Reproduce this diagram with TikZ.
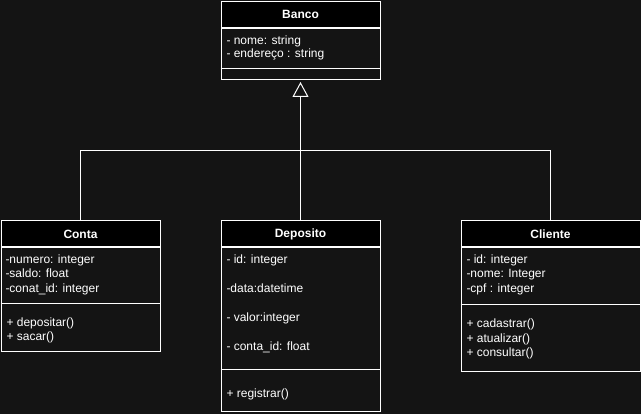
\documentclass[tikz,border=0pt]{standalone}
\usepackage{fontspec}
\setmainfont{Liberation Sans}
\usetikzlibrary{arrows.meta,positioning}
\definecolor{bgdark}{HTML}{141414}

\begin{document}
\begin{tikzpicture}[
        x=1pt, y=-1pt, line width=1pt,
        >={Triangle[open,length=15pt,width=16pt]},
        classhead/.style={draw=white, fill=black, text=white, inner sep=0pt, minimum height=26pt, font=\bfseries\fontsize{12}{14}\selectfont},
        classbody/.style={draw=white, fill=bgdark, inner sep=0pt},
        member/.style={text=white, anchor=base west, inner sep=0pt, font=\fontsize{12}{14}\selectfont},
        divider/.style={draw=white},
        link/.style={draw=white},
    ]

    %Draw the background
    \fill[bgdark] (0,0) rectangle (641,414);
    \useasboundingbox (0,0) rectangle (641,414);

    %Draw the Banco class
    \node[classhead, minimum width=159pt, anchor=north west] (banco) at (220.5,1) {Banco};
    \node[classbody, minimum width=159pt, minimum height=51pt, below=0pt of banco] (bancobody) {};
    \draw[divider] (220.5,69) -- (379.5,69);
    \node[member] (bancoa1) at (226,44.5) {- nome: string};
    \node[member] (bancoa2) at (226,57.5) {- endereço : string};

    %Draw the Conta class
    \node[classhead, minimum width=159pt, anchor=north west] (conta) at (0.5,220.5) {Conta};
    \node[classbody, minimum width=159pt, minimum height=104pt, below=0pt of conta] (contabody) {};
    \draw[divider] (0.5,304) -- (159.5,304);
    \node[member] (contaa1) at (5,263.5) {-numero: integer};
    \node[member] (contaa2) at (5,277.5) {-saldo: float};
    \node[member] (contaa3) at (5,292.5) {-conat\_id: integer};
    \node[member] (contam1) at (6,326.5) {+ depositar()};
    \node[member] (contam2) at (6,340.5) {+ sacar()};

    %Draw the Deposito class
    \node[classhead, minimum width=159pt, anchor=north west] (deposito) at (220.5,220.5) {Deposito};
    \node[classbody, minimum width=159pt, minimum height=164pt, below=0pt of deposito] (depositobody) {};
    \draw[divider] (220.5,370) -- (379.5,370);
    \node[member] (depositoa1) at (226,263.5) {- id: integer};
    \node[member] (depositoa2) at (226,292.5) {-data:datetime};
    \node[member] (depositoa3) at (226,321.5) {- valor:integer};
    \node[member] (depositoa4) at (226,350.5) {- conta\_id: float};
    \node[member] (depositom1) at (226,397.5) {+ registrar()};

    %Draw the Cliente class
    \node[classhead, minimum width=179pt, anchor=north west] (cliente) at (460.5,220.5) {Cliente};
    \node[classbody, minimum width=179pt, minimum height=124pt, below=0pt of cliente] (clientebody) {};
    \draw[divider] (460.5,305) -- (639.5,305);
    \node[member] (clientea1) at (466,263.5) {- id: integer};
    \node[member] (clientea2) at (466,277.5) {-nome: Integer};
    \node[member] (clientea3) at (466,292.5) {-cpf : integer};
    \node[member] (clientem1) at (466,327.5) {+ cadastrar()};
    \node[member] (clientem2) at (466,342.5) {+ atualizar()};
    \node[member] (clientem3) at (466,356.5) {+ consultar()};

    %Draw the inheritance links
    \coordinate (join) at (300,150.5);
    \draw[link] (conta.north) |- (join);
    \draw[link] (cliente.north) |- (join);
    \draw[link,->,shorten >=2pt] (deposito.north) -- (bancobody.south);
\end{tikzpicture}
\end{document}
